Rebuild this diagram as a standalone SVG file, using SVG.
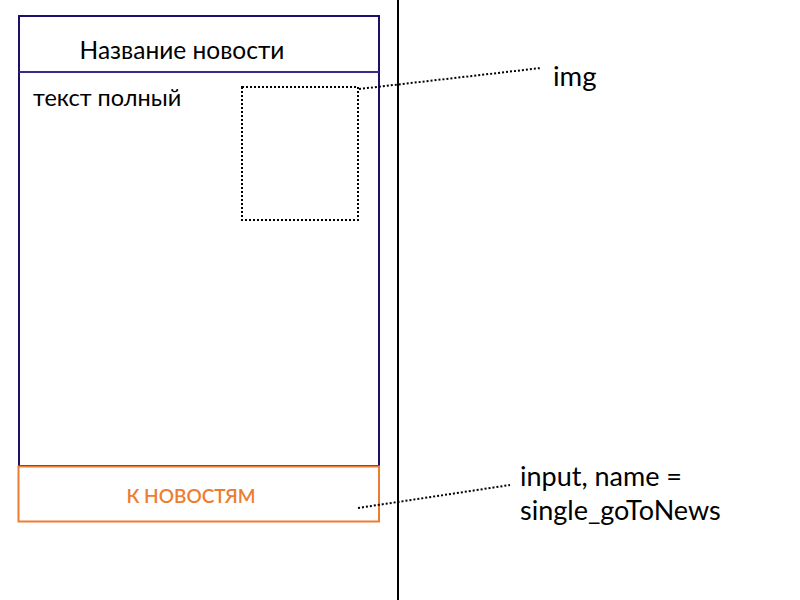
<svg xmlns="http://www.w3.org/2000/svg" width="800" height="600" viewBox="0 0 800 600">
<style>
text{font-family:Lato,"Open Sans",sans-serif;fill:#000}
.dot{stroke:#000;stroke-width:2;stroke-dasharray:2 2;fill:none}
</style>
<rect width="800" height="600" fill="#fff"/>
<line x1="398" y1="0" x2="398" y2="600" stroke="#000" stroke-width="2"/>
<g id="page">
<rect x="19" y="16" width="360" height="450" fill="none" stroke="#1f0f6b" stroke-width="2"/>
<line x1="19" y1="72" x2="379" y2="72" stroke="#3a2a8a" stroke-width="2"/>
<text x="182" y="59" font-size="24.5" text-anchor="middle">Название новости</text>
<text x="33" y="106" font-size="23.5">текст полный</text>
</g>
<g id="img-box">
<rect x="242" y="87" width="116" height="133" class="dot"/>
</g>
<g id="button">
<rect x="18.5" y="466.5" width="360.5" height="55" fill="#fff" stroke="#ed7d31" stroke-width="2"/>
<text x="191" y="503" font-size="19" font-weight="600" text-anchor="middle" style="fill:#ed7d31">К НОВОСТЯМ</text>
</g>
<g id="connectors">
<line x1="359" y1="89" x2="541" y2="68" class="dot"/>
<line x1="358" y1="508" x2="510" y2="485" class="dot"/>
</g>
<g id="labels">
<text x="553" y="86" font-size="27.5">img</text>
<text x="520" y="486" font-size="27">input, name =</text>
<text x="520" y="520" font-size="27">single_goToNews</text>
</g>
</svg>
